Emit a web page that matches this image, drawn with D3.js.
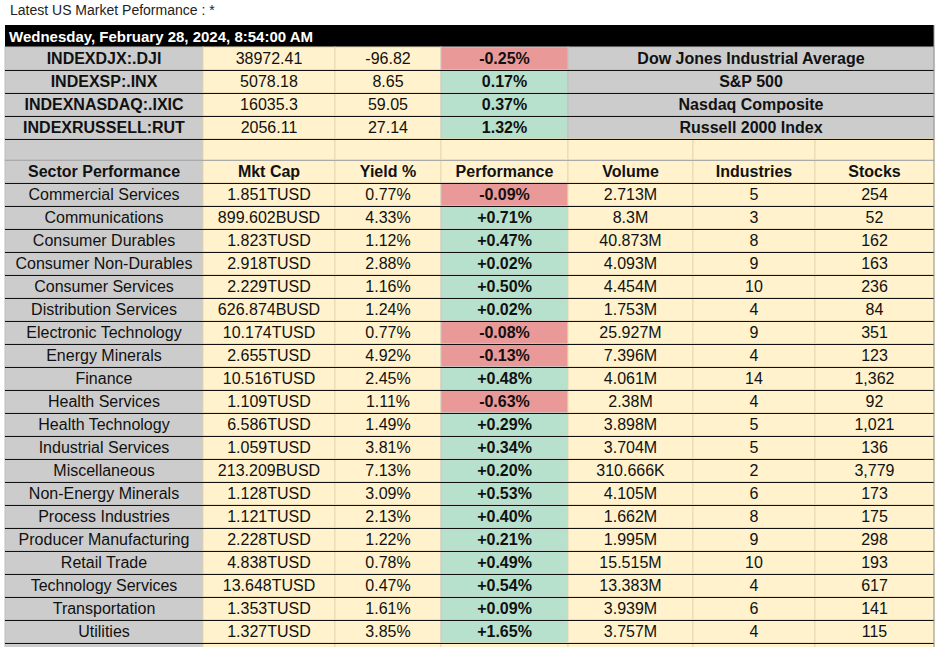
<!DOCTYPE html>
<html>
<head>
<meta charset="utf-8">
<script src="https://cdn.jsdelivr.net/npm/d3@7.9.0/dist/d3.min.js"></script>
<style>
  body { margin: 0; background: #fff; font-family: "Liberation Sans", Arial, sans-serif; }
</style>
</head>
<body>
<svg id="chart" width="938" height="647"></svg>
<script>
// ---------------------- Data ----------------------
const title = 'Latest US Market Peformance : *';
const stamp = 'Wednesday, February 28, 2024, 8:54:00 AM';

const indexCodes = ['INDEXDJX:.DJI', 'INDEXSP:.INX', 'INDEXNASDAQ:.IXIC', 'INDEXRUSSELL:RUT'];
const indexPrices = ['38972.41', '5078.18', '16035.3', '2056.11'];
const indexChanges = ['-96.82', '8.65', '59.05', '27.14'];
const indexPct = [-0.25, 0.17, 0.37, 1.32];
const indexNames = ['Dow Jones Industrial Average', 'S&P 500', 'Nasdaq Composite', 'Russell 2000 Index'];

const headers = ['Sector Performance', 'Mkt Cap', 'Yield %', 'Performance', 'Volume', 'Industries', 'Stocks'];
const sectors = ['Commercial Services', 'Communications', 'Consumer Durables', 'Consumer Non-Durables',
  'Consumer Services', 'Distribution Services', 'Electronic Technology', 'Energy Minerals', 'Finance',
  'Health Services', 'Health Technology', 'Industrial Services', 'Miscellaneous', 'Non-Energy Minerals',
  'Process Industries', 'Producer Manufacturing', 'Retail Trade', 'Technology Services', 'Transportation', 'Utilities'];
const mktCaps = ['1.851TUSD', '899.602BUSD', '1.823TUSD', '2.918TUSD', '2.229TUSD', '626.874BUSD', '10.174TUSD',
  '2.655TUSD', '10.516TUSD', '1.109TUSD', '6.586TUSD', '1.059TUSD', '213.209BUSD', '1.128TUSD', '1.121TUSD',
  '2.228TUSD', '4.838TUSD', '13.648TUSD', '1.353TUSD', '1.327TUSD'];
const yields = ['0.77%', '4.33%', '1.12%', '2.88%', '1.16%', '1.24%', '0.77%', '4.92%', '2.45%', '1.11%',
  '1.49%', '3.81%', '7.13%', '3.09%', '2.13%', '1.22%', '0.78%', '0.47%', '1.61%', '3.85%'];
const perf = [-0.09, 0.71, 0.47, 0.02, 0.50, 0.02, -0.08, -0.13, 0.48, -0.63, 0.29, 0.34, 0.20, 0.53, 0.40,
  0.21, 0.49, 0.54, 0.09, 1.65];
const volumes = ['2.713M', '8.3M', '40.873M', '4.093M', '4.454M', '1.753M', '25.927M', '7.396M', '4.061M',
  '2.38M', '3.898M', '3.704M', '310.666K', '4.105M', '1.662M', '1.995M', '15.515M', '13.383M', '3.939M', '3.757M'];
const industries = [5, 3, 8, 9, 10, 4, 9, 4, 14, 4, 5, 5, 2, 6, 8, 9, 10, 4, 6, 4];
const stocks = ['254', '52', '162', '163', '236', '84', '351', '123', '1,362', '92', '1,021', '136', '3,779',
  '173', '175', '298', '193', '617', '141', '115'];

// ---------------------- Layout ----------------------
const colEdges = [5, 203, 335, 441, 568, 693, 815, 934];
const GRAY = '#cccccc', BEIGE = '#fff2cc', RED = '#ea9999', GREEN = '#b7e1cd';
const rowY = d3.scaleLinear().domain([0, 1]).range([47, 70]); // row index -> top y
const svg = d3.select('#chart');

svg.append('text').attr('x', 10).attr('y', 15).attr('font-size', 14).attr('fill', '#222').text(title);

// black stamp bar
svg.append('rect').attr('x', colEdges[0]).attr('y', 25).attr('width', colEdges[7] - colEdges[0]).attr('height', 22).attr('fill', '#000');
svg.append('text').attr('x', 9).attr('y', 42).attr('font-size', 15).attr('font-weight', 'bold').attr('fill', '#fff').text(stamp);

// build cell list
const cells = [];
const pctFmt = (v, sign) => (sign && v >= 0 ? '+' : '') + v.toFixed(2) + '%';
indexCodes.forEach((c, i) => {
  cells.push({ r: i, c0: 0, c1: 1, fill: GRAY, text: c, bold: true });
  cells.push({ r: i, c0: 1, c1: 2, fill: BEIGE, text: indexPrices[i] });
  cells.push({ r: i, c0: 2, c1: 3, fill: BEIGE, text: indexChanges[i] });
  cells.push({ r: i, c0: 3, c1: 4, fill: indexPct[i] < 0 ? RED : GREEN, text: pctFmt(indexPct[i], false), bold: true });
  cells.push({ r: i, c0: 4, c1: 7, fill: GRAY, text: indexNames[i], bold: true });
});
cells.push({ r: 4, c0: 0, c1: 1, fill: GRAY, text: '', h: 21 });
for (let c = 1; c < 7; c++) cells.push({ r: 4, c0: c, c1: c + 1, fill: BEIGE, text: '', h: 21 });
headers.forEach((h, c) => cells.push({ r: 5, c0: c, c1: c + 1, fill: c === 0 ? GRAY : BEIGE, text: h, bold: true }));
sectors.forEach((s, i) => {
  const r = 6 + i;
  const vals = [s, mktCaps[i], yields[i], pctFmt(perf[i], true), volumes[i], industries[i], stocks[i]];
  vals.forEach((v, c) => cells.push({
    r, c0: c, c1: c + 1,
    fill: c === 0 ? GRAY : c === 3 ? (perf[i] < 0 ? RED : GREEN) : BEIGE,
    text: v, bold: c === 3
  }));
});
// trailing partial row
for (let c = 0; c < 7; c++) cells.push({ r: 26, c0: c, c1: c + 1, fill: c === 0 ? GRAY : BEIGE, text: '' });

// y for a row (empty row is 21 tall, everything else 23)
const topOf = r => r <= 4 ? rowY(r) : rowY(r) - 2;

const g = svg.append('g');
const cell = g.selectAll('g.cell').data(cells).join('g').attr('class', 'cell');
cell.append('rect')
  .attr('x', d => colEdges[d.c0])
  .attr('y', d => topOf(d.r))
  .attr('width', d => colEdges[d.c1] - colEdges[d.c0])
  .attr('height', d => d.h || 23)
  .attr('fill', d => d.fill)
  .attr('stroke', d => (d.fill === BEIGE ? '#e6d9b0' : d.fill === GRAY ? '#bdbdbd' : '#c8c8c8'))
  .attr('stroke-width', 1);
cell.append('text')
  .attr('x', d => (colEdges[d.c0] + colEdges[d.c1]) / 2)
  .attr('y', d => topOf(d.r) + 17)
  .attr('text-anchor', 'middle')
  .attr('font-size', 16)
  .attr('font-weight', d => d.bold ? 'bold' : 'normal')
  .attr('fill', '#111')
  .text(d => d.text);

// dark horizontal rules
const rules = d3.range(1, 27).filter(r => r !== 5);
g.selectAll('line.rule').data(rules).join('line')
  .attr('x1', colEdges[0]).attr('x2', colEdges[7])
  .attr('y1', d => topOf(d) + 0.5).attr('y2', d => topOf(d) + 0.5)
  .attr('stroke', '#111').attr('stroke-width', 1.2);
g.append('line').attr('x1', colEdges[0]).attr('x2', colEdges[7])
  .attr('y1', topOf(5) + 0.5).attr('y2', topOf(5) + 0.5).attr('stroke', '#aaa');
// right edge
g.append('line').attr('x1', colEdges[7]).attr('x2', colEdges[7]).attr('y1', 25).attr('y2', 647)
  .attr('stroke', '#999');
</script>
</body>
</html>
